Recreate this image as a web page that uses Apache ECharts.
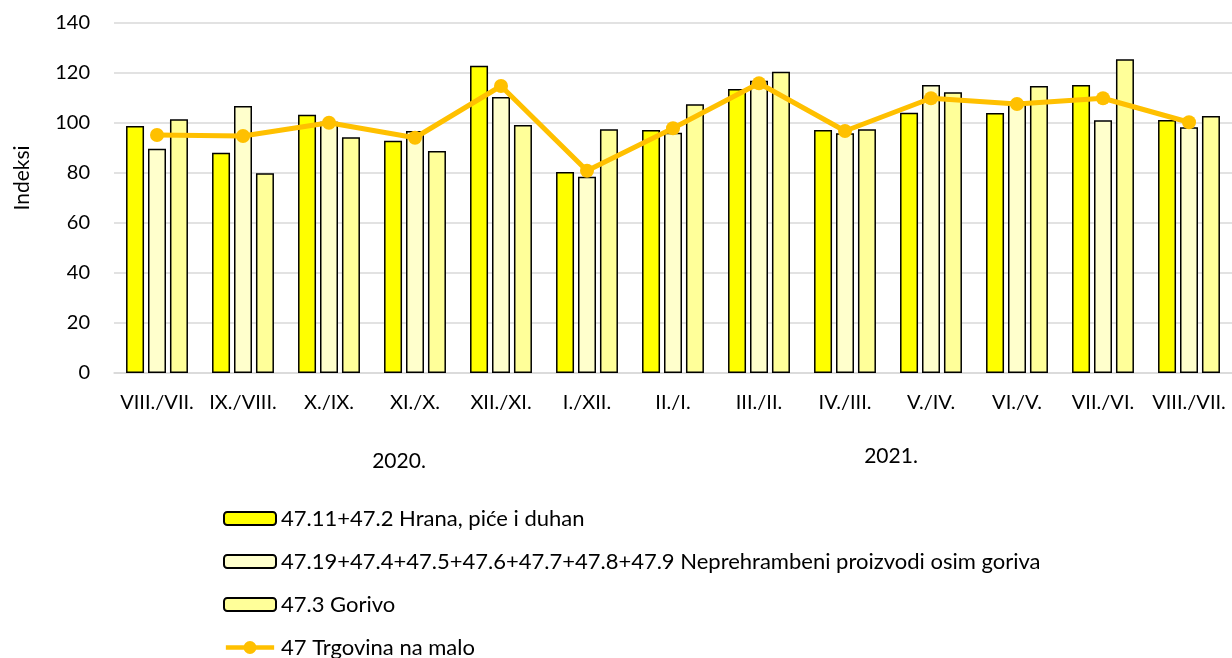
<!DOCTYPE html>
<html>
<head>
<meta charset="utf-8">
<script src="https://cdn.jsdelivr.net/npm/echarts@6/dist/echarts.min.js"></script>
<style>html,body{margin:0;padding:0;background:#fff;}#c{width:1232px;height:658px;}</style>
</head>
<body>
<div id="c"></div>
<script>
const categories = ['VIII./VII.','IX./VIII.','X./IX.','XI./X.','XII./XI.','I./XII.','II./I.','III./II.','IV./III.','V./IV.','VI./V.','VII./VI.','VIII./VII.'];
const yearLabels = ['2020.','2021.'];
const yAxisTitle = 'Indeksi';
const seriesNames = ['47.11+47.2 Hrana, piće i duhan','47.19+47.4+47.5+47.6+47.7+47.8+47.9 Neprehrambeni proizvodi osim goriva','47.3 Gorivo','47 Trgovina na malo'];
const hrana = [98.8, 88.1, 103.3, 92.9, 122.9, 80.4, 97.2, 113.6, 97.2, 104.1, 104.0, 115.2, 101.2];
const neprehrambeni = [89.7, 106.8, 100.5, 96.8, 110.4, 78.5, 96.1, 116.9, 95.9, 115.2, 108.8, 101.1, 98.3];
const gorivo = [101.5, 79.9, 94.3, 88.8, 99.2, 97.5, 107.5, 120.5, 97.5, 112.3, 114.8, 125.5, 102.8];
const trgovina = [95.2, 94.8, 100.1, 94.1, 114.8, 80.9, 97.9, 115.9, 96.8, 109.9, 107.6, 109.9, 100.3];

const FONT = 'Lato';
const chart = echarts.init(document.getElementById('c'));
const barStyle = (c) => ({ color: c, borderColor: '#000', borderWidth: 1.5 });
const lineIcon = 'path://M0,4.5L52,4.5L52,9.5L0,9.5Z M19,7A7,7 0 1,1 33,7A7,7 0 1,1 19,7Z';
chart.setOption({
  animation: false,
  textStyle: { fontFamily: FONT },
  grid: { left: 114, right: -1, top: 23, bottom: 285 },
  legend: {
    orient: 'vertical', left: 218, top: 502, height: 156,
    itemWidth: 52, itemHeight: 13, itemGap: 20,
    textStyle: { fontFamily: FONT, fontSize: 22, lineHeight: 23, color: '#000' },
    data: [
      { name: seriesNames[0] },
      { name: seriesNames[1] },
      { name: seriesNames[2] },
      { name: seriesNames[3], icon: lineIcon, itemStyle: { color: '#FFC000', borderWidth: 0 } }
    ]
  },
  xAxis: {
    type: 'category', data: categories,
    axisLine: { lineStyle: { color: '#d9d9d9', width: 1.5 } },
    axisTick: { show: false },
    axisLabel: { fontFamily: FONT, fontSize: 20, color: '#000', margin: 20, interval: 0 }
  },
  yAxis: {
    type: 'value', min: 0, max: 140, interval: 20,
    axisLine: { show: false }, axisTick: { show: false },
    axisLabel: { fontFamily: FONT, fontSize: 20, color: '#000', margin: 24 },
    splitLine: { lineStyle: { color: '#d9d9d9', width: 1.5 } }
  },
  graphic: [
    { type: 'text', x: 399, y: 451, style: { text: yearLabels[0], font: '21px ' + FONT, fill: '#000', align: 'center', verticalAlign: 'top' } },
    { type: 'text', x: 891, y: 446, style: { text: yearLabels[1], font: '21px ' + FONT, fill: '#000', align: 'center', verticalAlign: 'top' } },
    { type: 'text', x: 22, y: 178, rotation: Math.PI / 2, style: { text: yAxisTitle, font: '21px ' + FONT, fill: '#000', align: 'center', verticalAlign: 'middle' } }
  ],
  series: [
    { name: seriesNames[0], type: 'bar', data: hrana, barWidth: 18, barGap: '22%', itemStyle: barStyle('#FFFF00') },
    { name: seriesNames[1], type: 'bar', data: neprehrambeni, barWidth: 18, barGap: '22%', itemStyle: barStyle('#FFFFCC') },
    { name: seriesNames[2], type: 'bar', data: gorivo, barWidth: 18, barGap: '22%', itemStyle: barStyle('#FFFF99') },
    { name: seriesNames[3], type: 'line', data: trgovina, symbol: 'circle', symbolSize: 14,
      lineStyle: { color: '#FFC000', width: 5 }, itemStyle: { color: '#FFC000' }, z: 5 }
  ]
});
</script>
</body>
</html>
